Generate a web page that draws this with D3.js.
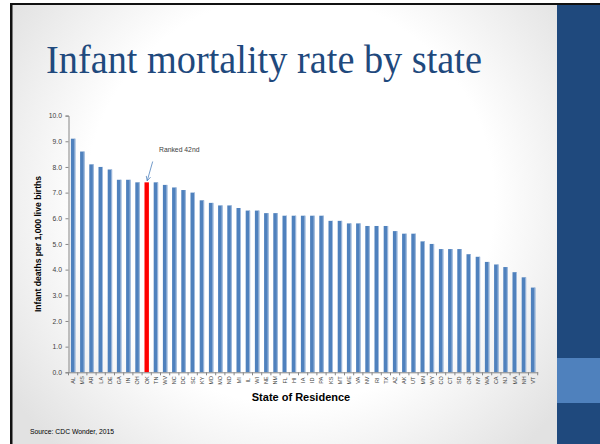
<!DOCTYPE html>
<html>
<head>
<meta charset="utf-8">
<script src="https://cdn.jsdelivr.net/npm/d3@7"></script>
<style>
  html, body { margin: 0; padding: 0; background: #fff; }
  svg { display: block; }
</style>
</head>
<body>
<div id="slide"></div>
<script>
// infant deaths per 1,000 live births, sorted high to low
var states = ["AL","MS","AR","LA","DE","GA","IN","OH","OK","TN","WV","NC","DC","SC","KY",
    "MD","MO","ND","MI","IL","WI","NE","NM","FL","HI","IA","ID","PA","KS","MT","ME",
    "VA","NV","RI","TX","AZ","AK","UT","MN","WY","CO","CT","SD","OR","NY","WA","CA",
    "NJ","MA","NH","VT"];
var rates = [9.1,8.6,8.1,8.0,7.9,7.5,7.5,7.4,7.4,7.4,7.3,7.2,7.1,7.0,6.7,
    6.6,6.5,6.5,6.4,6.3,6.3,6.2,6.2,6.1,6.1,6.1,6.1,6.1,5.9,5.9,5.8,
    5.8,5.7,5.7,5.7,5.5,5.4,5.4,5.1,5.0,4.8,4.8,4.8,4.6,4.5,4.3,4.2,
    4.1,3.9,3.7,3.3];
var yTicks = [0,1,2,3,4,5,6,7,8,9,10];
var highlight = "OK";

var width = 600, height = 444;

var svg = d3.select("#slide").append("svg")
    .attr("width", width)
    .attr("height", height);

var defs = svg.append("defs");
var bg = defs.append("radialGradient")
    .attr("id", "bg")
    .attr("gradientUnits", "userSpaceOnUse")
    .attr("cx", 290).attr("cy", 200).attr("r", 340);
bg.append("stop").attr("offset", "0.6").attr("stop-color", "#ffffff");
bg.append("stop").attr("offset", "1").attr("stop-color", "#e2e2e2");

defs.append("marker")
    .attr("id", "arrow")
    .attr("viewBox", "0 0 10 10")
    .attr("refX", 9).attr("refY", 5)
    .attr("markerWidth", 7).attr("markerHeight", 7)
    .attr("orient", "auto")
  .append("path")
    .attr("d", "M1,1 L9,5 L1,9")
    .attr("fill", "none")
    .attr("stroke", "#4f81bd")
    .attr("stroke-width", 1.3);

// slide background + frame
svg.append("rect").attr("x", 0).attr("y", 0).attr("width", width).attr("height", height).attr("fill", "#fff");
svg.append("rect").attr("x", 11).attr("y", 4).attr("width", 547).attr("height", 440).attr("fill", "url(#bg)");
svg.append("rect").attr("x", 557).attr("y", 4).attr("width", 43).attr("height", 440).attr("fill", "#1f497d");
svg.append("rect").attr("x", 557).attr("y", 358).attr("width", 43).attr("height", 45).attr("fill", "#4f81bd");
svg.append("rect").attr("x", 10).attr("y", 3).attr("width", 590).attr("height", 2).attr("fill", "#111");
svg.append("rect").attr("x", 10).attr("y", 3).attr("width", 2.5).attr("height", 441).attr("fill", "#111");

svg.append("text")
    .attr("x", 46).attr("y", 73)
    .attr("font-family", "Liberation Serif, serif")
    .attr("font-size", 40)
    .attr("fill", "#1f497d")
    .attr("textLength", 436)
    .attr("lengthAdjust", "spacingAndGlyphs")
    .text("Infant mortality rate by state");

var x = d3.scaleBand()
    .domain(states)
    .range([68.5, 537.7])
    .paddingInner(0.52)
    .paddingOuter(0.26);

var y = d3.scaleLinear()
    .domain([0, 10])
    .range([372.3, 115.6]);

var g = svg.append("g");

// y axis
var yAxis = g.append("g")
    .attr("transform", "translate(68.5,0)")
    .call(d3.axisLeft(y).tickValues(yTicks).tickSize(3).tickFormat(d3.format(".1f")));
yAxis.select(".domain").attr("stroke", "#868686");
yAxis.selectAll(".tick line").attr("stroke", "#868686");
yAxis.selectAll(".tick text")
    .attr("font-family", "Liberation Sans, Arial, sans-serif")
    .attr("font-size", 6.8)
    .attr("fill", "#404040")
    .attr("x", -6.5);

// bars
g.selectAll(".bar")
    .data(states)
    .enter().append("rect")
    .attr("class", "bar")
    .attr("x", function(d) { return x(d); })
    .attr("y", function(d, i) { return y(rates[i]); })
    .attr("width", x.bandwidth())
    .attr("height", function(d, i) { return y(0) - y(rates[i]); })
    .attr("fill", function(d) { return d == highlight ? "#ff0000" : "#4f81bd"; });

// light edge on the right side of each blue bar
g.selectAll(".edge")
    .data(states.filter(function(d) { return d != highlight; }))
    .enter().append("rect")
    .attr("class", "edge")
    .attr("x", function(d) { return x(d) + x.bandwidth() - 0.9; })
    .attr("y", function(d) { return y(rates[states.indexOf(d)]); })
    .attr("width", 0.9)
    .attr("height", function(d) { return y(0) - y(rates[states.indexOf(d)]); })
    .attr("fill", "#a9c1e0");

// x axis
var xAxis = g.append("g")
    .attr("transform", "translate(0," + y(0) + ")")
    .call(d3.axisBottom(x).tickSize(0));
xAxis.select(".domain").attr("stroke", "#868686");
xAxis.selectAll(".tick text")
    .attr("font-family", "Liberation Sans, Arial, sans-serif")
    .attr("font-size", 5.5)
    .attr("fill", "#404040")
    .attr("transform", "rotate(-90)")
    .attr("text-anchor", "middle")
    .attr("x", -8)
    .attr("y", 0)
    .attr("dy", "0.35em");

// tick marks between categories
var step = x.step();
g.selectAll(".xtick")
    .data(d3.range(states.length + 1))
    .enter().append("line")
    .attr("class", "xtick")
    .attr("x1", function(i) { return x.range()[0] + x.paddingOuter() * step - (x.paddingInner() * step) / 2 + i * step; })
    .attr("x2", function(i) { return x.range()[0] + x.paddingOuter() * step - (x.paddingInner() * step) / 2 + i * step; })
    .attr("y1", y(0))
    .attr("y2", y(0) + 3)
    .attr("stroke", "#868686");

// axis titles
svg.append("text")
    .attr("transform", "translate(41,244) rotate(-90)")
    .attr("text-anchor", "middle")
    .attr("font-family", "Liberation Sans, Arial, sans-serif")
    .attr("font-weight", "bold")
    .attr("font-size", 8.6)
    .attr("fill", "#000")
    .text("Infant deaths per 1,000 live births");

svg.append("text")
    .attr("x", 301).attr("y", 401)
    .attr("text-anchor", "middle")
    .attr("font-family", "Liberation Sans, Arial, sans-serif")
    .attr("font-weight", "bold")
    .attr("font-size", 11)
    .attr("fill", "#000")
    .text("State of Residence");

// annotation
svg.append("text")
    .attr("x", 159).attr("y", 152)
    .attr("font-family", "Liberation Sans, Arial, sans-serif")
    .attr("font-size", 6.8)
    .attr("fill", "#404040")
    .text("Ranked 42nd");

var ox = x(highlight) + x.bandwidth() / 2;
svg.append("line")
    .attr("x1", ox + 6).attr("y1", 161.5)
    .attr("x2", ox + 0.5).attr("y2", y(rates[states.indexOf(highlight)]) - 1.5)
    .attr("stroke", "#4f81bd")
    .attr("stroke-width", 0.8)
    .attr("marker-end", "url(#arrow)");

svg.append("text")
    .attr("x", 30).attr("y", 434)
    .attr("font-family", "Liberation Sans, Arial, sans-serif")
    .attr("font-size", 6.8)
    .attr("fill", "#000")
    .text("Source: CDC Wonder, 2015");
</script>
</body>
</html>
